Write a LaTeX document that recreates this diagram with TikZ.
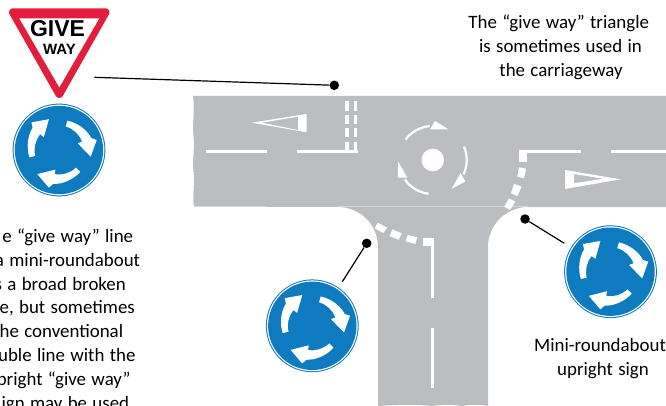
\documentclass[tikz,border=0pt]{standalone}
\usepackage{fontspec}
\setmainfont[WordSpace=1.25]{Carlito}
\newfontfamily\signfont{Liberation Sans}
\definecolor{roadgrey}{HTML}{BCBDC0}
\definecolor{signblue}{HTML}{0E7BC0}
\definecolor{signred}{HTML}{E31D3E}
\tikzset{
  px/.style={x=1pt,y=-1pt},
  dotnode/.style={circle,fill=black,inner sep=0pt,minimum size=9.5pt},
  leader/.style={draw=black,line width=1.2pt},
  roadmark/.style={fill=white,draw=none},
  captionc/.style={font=\fontsize{18.9}{24}\selectfont,text=black,inner sep=0pt,anchor=base},
  captionr/.style={font=\fontsize{18.9}{24}\selectfont,text=black,inner sep=0pt,anchor=base east},
  signarrow/.pic={
    \fill[white] (-74:30.5) .. controls (-55:33) and (-35:34.5) .. (-20:34.5)
      -- (37.7,-10) -- (31.7,6.7) -- (18.7,-6.7) -- (-20:24.5)
      arc[start angle=-20,end angle=-74,radius=24.5] -- cycle;
  },
  minisign/.pic={
    \fill[signblue] (0,0) circle[radius=46.4];
    \fill[white] (0,0) circle[radius=45.4];
    \fill[signblue] (0,0) circle[radius=44.2];
    \foreach \a in {0,120,240}{\pic[rotate=\a] {signarrow};}
  },
  ringarrow/.pic={
    \draw[white,line width=2.2pt] (-143:34) arc[start angle=-143,end angle=-95,radius=34];
    \fill[white] (2.3,-39) -- (15.7,-30.7) -- (-2.7,-30.7) -- cycle;
  }
}
\begin{document}
\begin{tikzpicture}[px]
\useasboundingbox (0,0) rectangle (666,406);
% road
\fill[roadgrey] (193,96) -- (666,96) -- (666,207) -- (528,207)
  arc[start angle=-90,end angle=-180,radius=40]
  -- (488,406)
  .. controls (482,404.5) and (468,404.5) .. (462,406)
  .. controls (452,404.5) and (442,404.5) .. (432,406)
  .. controls (420,404.5) and (400,404.5) .. (378,406)
  -- (378,247)
  arc[start angle=0,end angle=-90,radius=40]
  -- (194,206.5)
  .. controls (192,195) and (195,185) .. (193.5,172)
  .. controls (192,160) and (195,150) .. (193.5,136)
  .. controls (192,125) and (195,112) .. (193,96) -- cycle;
\draw[white!35!roadgrey,line width=0.6pt] (338,206.5) -- (528,206.5);
% centre lines
\fill[roadmark] (206,150) rectangle (267,153);
\fill[roadmark] (297,150) rectangle (358,153);
\fill[roadmark] (519.3,150) rectangle (581,153);
\fill[roadmark] (611,150) rectangle (666,153);
\fill[roadmark] (431,246) rectangle (434,298);
\fill[roadmark] (431,328) rectangle (434,388);
% give way double broken line (left arm)
\foreach \ya/\yb in {101/111,115/124,128/137,142/151}{
  \fill[roadmark] (345,\ya) rectangle (349,\yb);
  \fill[roadmark] (353.5,\ya) rectangle (357,\yb);
}
% broad broken line (right arm)
\fill[roadmark] (519.3,153) rectangle (527,162);
\fill[roadmark] (519,167.3) -- (526,168.7) -- (524,178.3) -- (517.3,176.7) -- cycle;
\fill[roadmark] (514,183.7) -- (521.7,186.7) -- (517.3,196) -- (511,193.3) -- cycle;
\fill[roadmark] (509,198.3) -- (515.3,201.7) -- (510,210) -- (504.3,206.7) -- cycle;
% broad broken line (lower arm)
\fill[roadmark] (423.3,237.7) rectangle (434,246);
\fill[roadmark] (407.7,235) -- (417.3,237.3) -- (415.3,244) -- (405.7,241.3) -- cycle;
\fill[roadmark] (392.3,229.3) -- (401.7,233.3) -- (398.7,239.7) -- (389.7,236) -- cycle;
\fill[roadmark] (377.7,222.7) -- (387,227.7) -- (383.3,233) -- (374.7,228.3) -- cycle;
% carriageway triangles
\fill[roadmark,even odd rule] (251.7,122.7) -- (306.7,114) -- (306.7,132.3) -- cycle
  (261.7,122.7) -- (298,116.7) -- (298,130) -- cycle;
\fill[roadmark,even odd rule] (620.7,179.3) -- (565,170) -- (565,189) -- cycle
  (603,178.7) -- (574,174) -- (574,183.3) -- cycle;
% mini roundabout
\fill[white] (432.7,160) circle[radius=11.3];
\foreach \a in {0,120,240}{\pic[rotate=\a] at (432.7,160) {ringarrow};}
% give way sign
\draw[signred,fill=signred,line width=8pt,line join=round] (13,12.3) -- (105.5,12.3) -- (59.3,94) -- cycle;
\fill[white] (19.3,18.3) -- (99.3,18.3) -- (59.3,87.3) -- cycle;
\node[font=\signfont\bfseries\fontsize{23}{23}\selectfont,inner sep=0pt,anchor=base] (givetext) at (57.5,37) {GIVE};
\node[font=\signfont\bfseries\fontsize{15}{15}\selectfont,inner sep=0pt,anchor=base] (waytext) at (59.5,54.3) {WAY};
% upright signs
\pic at (59,150) {minisign};
\pic at (312.3,325.8) {minisign};
\pic at (610.5,271.7) {minisign};
% leaders
\node[dotnode] (dota) at (334.3,85.3) {};
\node[dotnode] (dotb) at (366.7,243.3) {};
\node[dotnode] (dotc) at (525,219) {};
\coordinate (enda) at (94.3,77.3);
\coordinate (endb) at (342.3,281.7);
\coordinate (endc) at (564.3,243.3);
\draw[leader] (enda) -- (dota);
\draw[leader] (endb) -- (dotb);
\draw[leader] (endc) -- (dotc);
% captions
\node[captionc] (ta) at (558.7,29) {The “give way” triangle};
\node[captionc] (tb) at (560.5,53) {is sometimes used in};
\node[captionc] (tc) at (561,77) {the carriageway};
\node[captionc] (td) at (600,351.7) {Mini-roundabout};
\node[captionc] (te) at (603,375.7) {upright sign};
\node[captionr] (la) at (133.3,242) {e “give way” line};
\node[captionr] (lb) at (140.3,266) {a mini-roundabout};
\node[captionr] (lc) at (126,290) {s a broad broken};
\node[captionr] (ld) at (135,313.5) {e, but sometimes};
\node[captionr] (le) at (123.3,337) {he conventional};
\node[captionr] (lf) at (135.7,361) {uble line with the};
\node[captionr] (lg) at (130.7,385) {pright “give way”};
\node[captionr] (lh) at (129.3,409) {ign may be used};
\end{tikzpicture}
\end{document}
